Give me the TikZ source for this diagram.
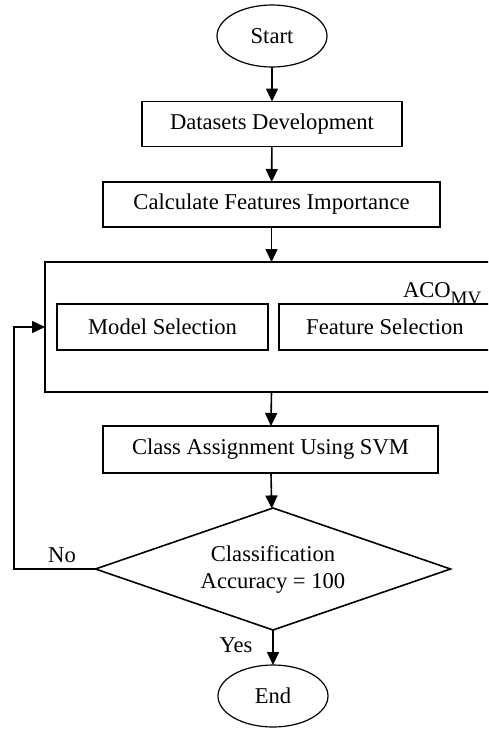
\documentclass[tikz,border=0pt]{standalone}
\usepackage{fontspec}
\setmainfont{Liberation Serif}
\usetikzlibrary{shapes.geometric, arrows.meta, positioning}
\tikzset{
  flow/.style={
	x=0.5pt, y=-0.5pt, % one unit is one pixel of the page
	line width=0.8pt,
	font=\fontsize{11.3}{13.5}\selectfont,
	every node/.style={inner sep=0pt, outer sep=0pt},
  },
  arrow/.style={-{Triangle[length=6.5pt, width=6pt]}}, % bold filled heads
  terminal/.style={draw, ellipse, line width=0.6pt, minimum width=55pt, minimum height=31pt},
  process/.style={draw, rectangle, fill=white, minimum height=22.5pt},
  decision/.style={draw, diamond, shape aspect=2.9, minimum width=177.5pt, minimum height=61pt, align=center},
}
\begin{document}
\begin{tikzpicture}[flow]
\useasboundingbox (0,0) rectangle (488,729);
\clip (0,0) rectangle (488,729);
\node[terminal] (start) at (272,36) {Start};
\node[process, minimum width=130pt] (data) at (272,124) {Datasets Development};
\node[process, minimum width=168.5pt] (calc) at (271.5,204.5) {Calculate Features Importance};
\node[draw, rectangle, minimum width=223pt, minimum height=65pt] (aco) at (268,327) {};
\node[anchor=base west] (acolbl) at (403,297) {ACO\raisebox{-3.5pt}{\fontsize{9.5}{10}\selectfont MV}};
\node[process, minimum width=105.5pt, minimum height=23pt] (model) at (162.5,327) {Model Selection};
\node[process, minimum width=106pt, minimum height=23pt] (feat) at (385,327) {Feature Selection};
\node[process, minimum width=167.5pt, minimum height=23.5pt] (class) at (270.5,449.5) {Class Assignment Using SVM};
\node[decision] (check) at (273,569) {Classification\\Accuracy = 100};
\node[terminal] (end) at (273,696) {End};
\coordinate (back) at (14,569);
\node (no) at (62,555) {No};
\node (yes) at (236,645) {Yes};
\draw[arrow] (start) -- (data);
\draw[arrow] (data) -- (calc);
\draw[arrow] (calc) -- (calc |- aco.north);
\draw[arrow] (calc |- aco.south) -- (class);
\draw[arrow] (class) -- (check);
\draw[arrow] (check) -- (end);
\draw[arrow] (check.west) -- (back) |- (aco.west);
\end{tikzpicture}
\end{document}
